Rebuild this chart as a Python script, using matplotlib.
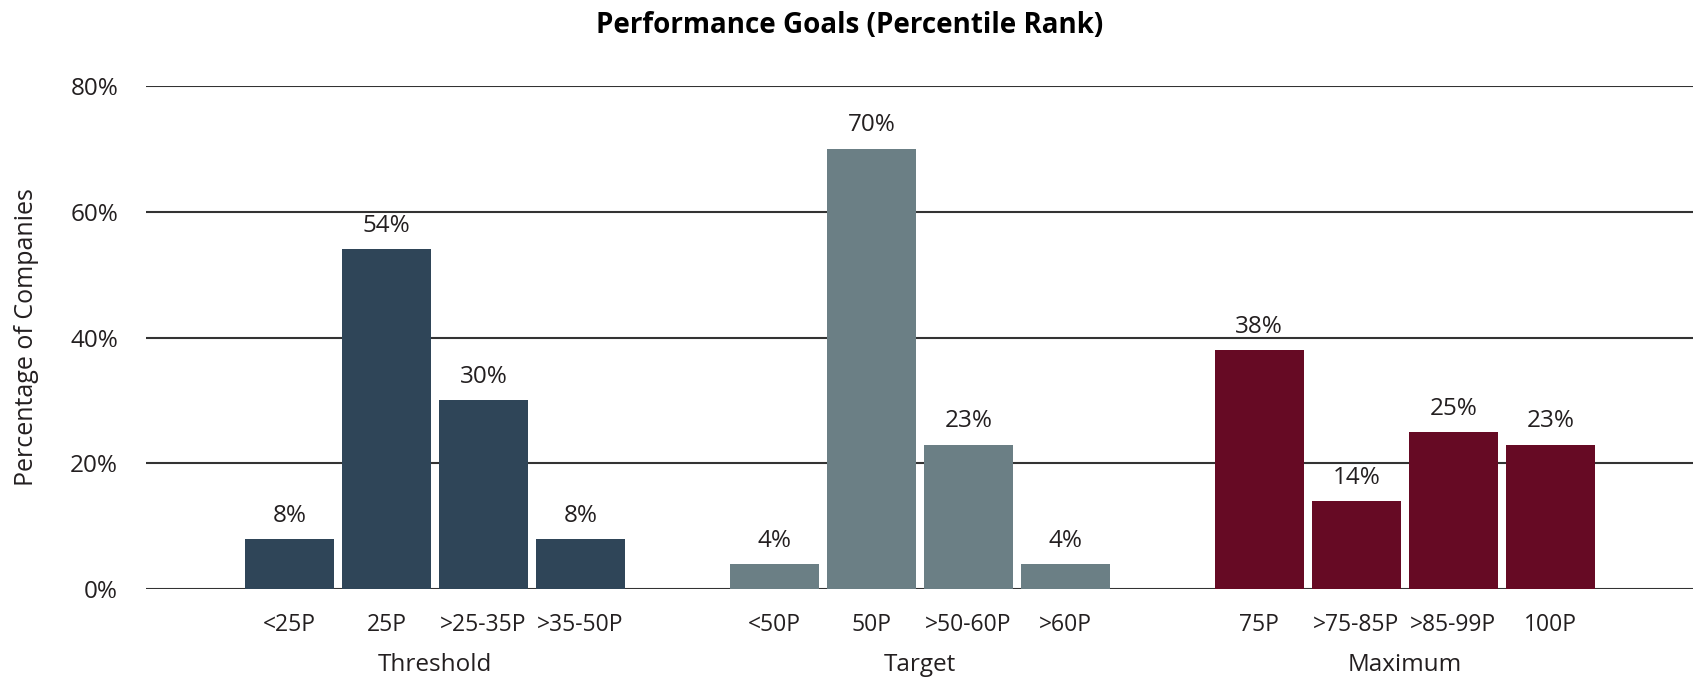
import matplotlib.pyplot as plt

plt.rcParams['font.family'] = ['Open Sans', 'DejaVu Sans']

groups = ['Threshold', 'Target', 'Maximum']
categories = [
    ['<25P', '25P', '>25-35P', '>35-50P'],
    ['<50P', '50P', '>50-60P', '>60P'],
    ['75P', '>75-85P', '>85-99P', '100P'],
]
values = [
    [8, 54, 30, 8],
    [4, 70, 23, 4],
    [38, 14, 25, 23],
]
colors = ['#2f4558', '#6b7f85', '#660a24']

text_color = '#231f20'

fig = plt.figure(figsize=(16.99, 6.8), dpi=100)
ax = fig.add_axes([0.0859, 0.1332, 0.9105, 0.7409])

ticks = []
tick_labels = []
for g, (cats, vals, col) in enumerate(zip(categories, values, colors)):
    x = [g * 5 + i for i in range(len(cats))]
    bars = ax.bar(x, vals, width=0.915, color=col, zorder=3)
    for b, v in zip(bars, vals):
        ax.annotate(f'{v}%', (b.get_x() + b.get_width() / 2, v),
                    xytext=(0, 8), textcoords='offset points',
                    ha='center', va='bottom', fontsize=17.5, color=text_color)
    ticks += x
    tick_labels += cats
    ax.text(g * 5 + 1.5, -0.15, groups[g], transform=ax.get_xaxis_transform(),
            ha='center', va='center', fontsize=17.5, color=text_color)

for yv in range(0, 81, 20):
    ax.axhline(yv, color='#333333', lw=1.5, zorder=1)

ax.set_xlim(-1.48, 14.47)
ax.set_ylim(0, 80)
ax.set_yticks(range(0, 81, 20))
ax.set_yticklabels([f'{v}%' for v in range(0, 81, 20)])
ax.set_xticks(ticks)
ax.set_xticklabels(tick_labels)
ax.tick_params(axis='y', length=0, pad=20, labelsize=17.5, labelcolor=text_color)
ax.tick_params(axis='x', length=0, pad=17, labelsize=16.5, labelcolor=text_color)
for s in ax.spines.values():
    s.set_visible(False)

ax.set_ylabel('Percentage of Companies', fontsize=18, color=text_color)
ax.yaxis.set_label_coords(-0.069, 0.5)

fig.text(0.5, 0.962, 'Performance Goals (Percentile Rank)', ha='center', va='center',
         fontsize=20, fontweight='bold', color='black')

fig.savefig('out.png', dpi=100)
